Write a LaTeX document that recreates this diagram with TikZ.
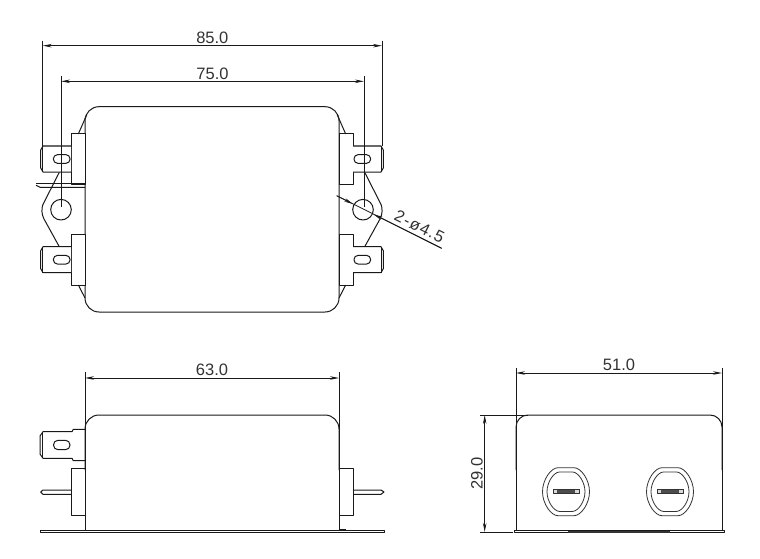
\documentclass[tikz,border=0pt]{standalone}
\usepackage{fontspec}
\setmainfont{Liberation Sans}
\usetikzlibrary{arrows.meta}
\tikzset{
    part/.style={draw=black!90, line width=1pt, line join=round},
    thin part/.style={draw=black!80, line width=0.8pt},
    dim/.style={draw=black!90, line width=0.8pt, {Stealth[length=9pt,width=3.5pt]}-{Stealth[length=9pt,width=3.5pt]}},
    ext/.style={draw=black!90, line width=0.8pt},
    dim text/.style={font=\fontsize{16.5}{16.5}\selectfont, text=black!80, inner sep=1.5pt},
}
\begin{document}
\begin{tikzpicture}[x=1pt, y=-1pt]
    \useasboundingbox (0,0) rectangle (760,559);
    % Top view
    \draw[part, rounded corners=14pt] (85,200) -- (85,106.7) -- (339,106.7) -- (339,312) -- (85,312) -- (85,200);
    \foreach \sx/\ox in {1/0, -1/424} {
        \begin{scope}[xshift=\ox pt, xscale=\sx]
            \draw[part, fill=white] (71,134) rectangle (85,184);
            \draw[part, fill=white] (71,234) rectangle (85,285);
            \draw[part] (78.3,134) -- (86.7,115);
            \draw[part] (78.3,285) -- (85,298);
            \draw[part] (59.3,172.3) -- (42.7,205) .. controls (41.5,209) and (41.5,214) .. (44,219) -- (59.3,246.7);
            \draw[part] (61,209.7) circle[radius=10.3];
            \foreach \yy in {146, 246.7} {
                \draw[part, fill=white] (71,\yy) -- (43,\yy) -- (40.7,\yy+4) -- (40.7,\yy+22) -- (43,\yy+26) -- (71,\yy+26);
                \draw[part] (42.7,\yy) -- (42.7,\yy+26);
                \draw[part, rounded corners=4pt] (53.4,\yy+8.7) rectangle (70,\yy+17.3);
            }
        \end{scope}
    }
    \draw[part] (36,183.3) -- (85,183.3);
    \draw[part] (36,185.3) -- (40,187.3) -- (85,187.3);
    % Top view dimensions
    \coordinate (a1) at (42.7,45.7);
    \coordinate (a2) at (382,45.7);
    \coordinate (b1) at (61,81.3);
    \coordinate (b2) at (364,81.3);
    \draw[dim] (a1) -- node[above, dim text] (t85) {85.0} (a2);
    \draw[dim] (b1) -- node[above, dim text] (t75) {75.0} (b2);
    \draw[ext] (42.7,40.7) -- (42.7,146);
    \draw[ext] (382,40.7) -- (382,146);
    \draw[ext] (61,76) -- (61,207);
    \draw[ext] (364,76) -- (364,207);
    \coordinate (l1) at (336.7,195.7);
    \coordinate (l2) at (441.7,248.3);
    \coordinate (h1) at (353,204);
    \coordinate (h2) at (373.5,214.3);
    \draw[ext] (l1) -- (l2);
    \draw[ext, -{Stealth[length=9pt,width=3.5pt]}] (l1) -- (h1);
    \draw[ext, -{Stealth[length=9pt,width=3.5pt]}] (l2) -- (h2);
    \node[dim text, rotate=-26.6] (thole) at (419.5,226.5) {\addfontfeature{LetterSpace=7}2-ø4.5};
    % Side view
    \draw[part, rounded corners=14pt] (85,470) -- (85,415) -- (339,415) -- (339,470);
    \draw[part] (40.7,530) rectangle (384,532.7);
    \draw[line width=1.4pt, black!90] (339,530) -- (346,530);
    \draw[part] (85,429.3) -- (73.3,429.3) -- (72,431.7) -- (43,431.7) -- (40,436) -- (40,454) -- (43,458.3)
        -- (72,458.3) -- (73.3,460.7) -- (85,460.7);
    \draw[part] (42.7,431.7) -- (42.7,458.3);
    \draw[part, rounded corners=4.5pt] (53.5,440.3) rectangle (70,449.7);
    \draw[part] (85,468.3) -- (71,468.3) -- (71,515.7) -- (85,515.7);
    \draw[part] (339,468.3) -- (353.3,468.3) -- (353.3,515.7) -- (339,515.7);
    \draw[part] (71,490) -- (43,490) -- (40.7,492) -- (43,494.3) -- (71,494.3);
    \draw[part] (353.3,490) -- (381,490) -- (384,492) -- (381,494.3) -- (353.3,494.3);
    \coordinate (c1) at (85,378);
    \coordinate (c2) at (339,378);
    \draw[dim] (c1) -- node[above, dim text] (t63) {63.0} (c2);
    \draw[ext] (85,372) -- (85,530);
    \draw[ext] (339,372) -- (339,530);
    % Front view
    \draw[part, rounded corners=12pt] (516,470) -- (516,415) -- (722,415) -- (722,470);
    \draw[part] (514.3,530) rectangle (724,532.7);
    \draw[line width=1.6pt, black!80] (568,532) -- (670,532);
    \foreach \cx in {566, 670} {
        \draw[thin part] (\cx-8,467.7) -- (\cx+8,467.7) .. controls (\cx+15,467.7) and (\cx+23.5,479.7) .. (\cx+23.5,491.7)
            .. controls (\cx+23.5,503.7) and (\cx+15,515.7) .. (\cx+8,515.7) -- (\cx-8,515.7)
            .. controls (\cx-15,515.7) and (\cx-23.5,503.7) .. (\cx-23.5,491.7)
            .. controls (\cx-23.5,479.7) and (\cx-15,467.7) .. (\cx-8,467.7) -- cycle;
        \draw[thin part] (\cx-6.5,472) -- (\cx+6.5,472) .. controls (\cx+12,472) and (\cx+19,481.7) .. (\cx+19,491.7)
            .. controls (\cx+19,501.7) and (\cx+12,511.4) .. (\cx+6.5,511.4) -- (\cx-6.5,511.4)
            .. controls (\cx-12,511.4) and (\cx-19,501.7) .. (\cx-19,491.7)
            .. controls (\cx-19,481.7) and (\cx-12,472) .. (\cx-6.5,472) -- cycle;
        \draw[thin part, fill=black!15] (\cx-13,489.8) rectangle (\cx+13,493.8);
        \fill[black!70] (\cx-9,490.4) rectangle (\cx+9,493.2);
    }
    \coordinate (d1) at (516,373);
    \coordinate (d2) at (722,373);
    \draw[dim] (d1) -- node[above, dim text] (t51) {51.0} (d2);
    \draw[ext] (516,368) -- (516,530);
    \draw[ext] (722,368) -- (722,530);
    \coordinate (e1) at (484.7,415);
    \coordinate (e2) at (484.7,532);
    \draw[dim] (e1) -- node[dim text, rotate=90, anchor=south] (t29) {29.0} (e2);
    \draw[ext] (480,415) -- (528,415);
    \draw[ext] (480,532) -- (513,532);
\end{tikzpicture}
\end{document}
